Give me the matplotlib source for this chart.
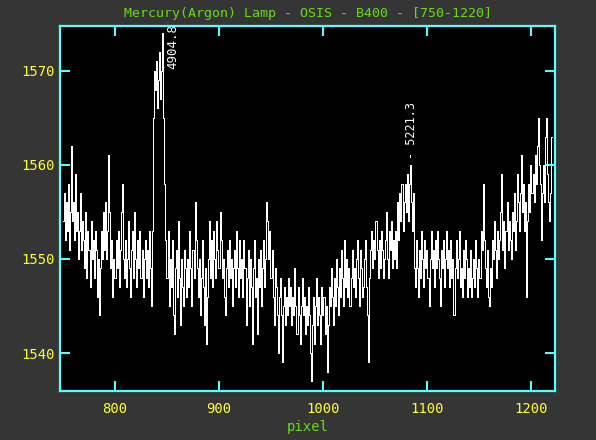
import numpy as np
import matplotlib
matplotlib.use("Agg")
import matplotlib.pyplot as plt

# spectrum of the Mercury(Argon) lamp, one value per pixel 750..1220
pixel_start = 750
pixel_end = 1220
counts = [
    1554, 1557, 1552, 1556, 1553, 1558, 1551, 1555, 1562, 1554,
    1556, 1552, 1559, 1553, 1555, 1550, 1553, 1557, 1551, 1554,
    1552, 1549, 1555, 1548, 1553, 1551, 1547, 1554, 1550, 1552,
    1548, 1553, 1551, 1546, 1550, 1544, 1549, 1553, 1550, 1555,
    1551, 1556, 1550, 1553, 1561, 1555, 1549, 1552, 1546, 1550,
    1548, 1552, 1549, 1553, 1547, 1551, 1555, 1558, 1550, 1548,
    1552, 1547, 1550, 1554, 1549, 1546, 1551, 1553, 1548, 1555,
    1550, 1547, 1552, 1549, 1553, 1548, 1551, 1546, 1550, 1552,
    1548, 1551, 1547, 1553, 1549, 1545, 1553, 1565, 1570, 1568,
    1571, 1566, 1569, 1572, 1567, 1570, 1574, 1565, 1558, 1552,
    1548, 1553, 1545, 1550, 1547, 1552, 1544, 1542, 1549, 1551,
    1546, 1554, 1548, 1543, 1550, 1547, 1545, 1551, 1549, 1546,
    1550, 1547, 1553, 1549, 1545, 1551, 1548, 1556, 1552, 1549,
    1546, 1550, 1544, 1548, 1552, 1547, 1543, 1549, 1541, 1546,
    1550, 1554, 1548, 1552, 1547, 1553, 1550, 1548, 1554, 1551,
    1549, 1555, 1552, 1548, 1550, 1546, 1544, 1549, 1551, 1547,
    1552, 1548, 1550, 1545, 1549, 1551, 1547, 1553, 1549, 1546,
    1552, 1548, 1550, 1546, 1552, 1549, 1543, 1548, 1551, 1545,
    1550, 1547, 1541, 1549, 1552, 1546, 1548, 1542, 1550, 1547,
    1551, 1545, 1549, 1552, 1547, 1550, 1556, 1554, 1550, 1553,
    1548, 1551, 1546, 1543, 1549, 1547, 1544, 1540, 1546, 1548,
    1544, 1539, 1545, 1547, 1543, 1546, 1544, 1548, 1545, 1547,
    1543, 1546, 1544, 1549, 1545, 1542, 1547, 1544, 1541, 1545,
    1548, 1544, 1546, 1542, 1545, 1543, 1547, 1544, 1540, 1537,
    1543, 1546, 1541, 1545, 1548, 1543, 1546, 1544, 1541, 1547,
    1544, 1546, 1542, 1545, 1538, 1543, 1547, 1545, 1549, 1546,
    1543, 1548, 1545, 1550, 1547, 1544, 1549, 1546, 1551, 1548,
    1545, 1552, 1547, 1550, 1546, 1549, 1545, 1548, 1551, 1547,
    1549, 1546, 1550, 1552, 1548, 1545, 1551, 1549, 1546, 1547,
    1550, 1552, 1547, 1544, 1539, 1548, 1551, 1553, 1549, 1552,
    1550, 1554, 1551, 1548, 1552, 1549, 1553, 1551, 1548, 1550,
    1552, 1555, 1550, 1548, 1553, 1551, 1554, 1549, 1552, 1550,
    1553, 1549, 1556, 1552, 1557, 1554, 1558, 1553, 1556, 1558,
    1555, 1559, 1554, 1558, 1560, 1556, 1553, 1557, 1549, 1547,
    1552, 1549, 1546, 1551, 1548, 1553, 1550, 1547, 1552, 1549,
    1551, 1548, 1545, 1550, 1553, 1549, 1551, 1547, 1552, 1549,
    1553, 1550, 1548, 1545, 1551, 1549, 1552, 1547, 1550, 1553,
    1549, 1551, 1547, 1552, 1548, 1550, 1544, 1549, 1552, 1548,
    1550, 1553, 1547, 1549, 1546, 1551, 1548, 1552, 1550, 1546,
    1549, 1547, 1551, 1546, 1548, 1550, 1547, 1552, 1549, 1546,
    1550, 1548, 1553, 1551, 1558, 1552, 1549, 1547, 1551, 1546,
    1545, 1549, 1547, 1552, 1550, 1554, 1551, 1548, 1553, 1550,
    1552, 1555, 1559, 1551, 1554, 1549, 1553, 1556, 1551, 1554,
    1552, 1550, 1555, 1553, 1557, 1551, 1554, 1559, 1556, 1553,
    1557, 1561, 1555, 1558, 1553, 1556, 1546, 1554, 1558, 1555,
    1560, 1557, 1559, 1556, 1561, 1558, 1562, 1565, 1560, 1558,
    1552, 1557, 1560, 1556, 1563, 1565, 1559, 1556, 1554, 1557,
    1563,
]

# identified lines: (pixel, label)
line_pixels = [846, 1084]
line_labels = ["4904.8", "- 5221.3"]

x_ticks = [800, 900, 1000, 1100, 1200]
y_ticks = [1540, 1550, 1560, 1570]

BG = "#353535"
CYAN = "#55ffff"
YELLOW = "#ffff33"
GREEN = "#66dd11"
MONO = "DejaVu Sans Mono"

pixels = np.arange(pixel_start, pixel_end + 1)

fig = plt.figure(figsize=(5.96, 4.40), dpi=100, facecolor=BG)
ax = fig.add_axes([0.101, 0.112, 0.830, 0.830])
ax.set_facecolor("black")

ax.plot(pixels, counts, color="white", lw=0.7, drawstyle="steps-mid",
        antialiased=False)

ax.set_xlim(747.3, 1223.0)
ax.set_ylim(1536.0, 1574.8)
ax.set_xticks(x_ticks)
ax.set_yticks(y_ticks)

for s in ax.spines.values():
    s.set_color(CYAN)
    s.set_linewidth(1.6)
ax.tick_params(which="both", direction="in", color=CYAN, width=1.5, length=7.5,
               top=True, right=True, labelcolor=YELLOW, labelsize=10)
ax.tick_params(axis="y", pad=4)
ax.tick_params(axis="x", pad=8)
for lab in ax.get_xticklabels() + ax.get_yticklabels():
    lab.set_family(MONO)

ax.set_title("Mercury(Argon) Lamp - OSIS - B400 - [750-1220]",
             color=GREEN, family=MONO, fontsize=9.5, pad=6)
ax.set_xlabel("pixel", color=GREEN, family=MONO, fontsize=10, labelpad=3)

# line identifications
ax.annotate(line_labels[0], xy=(line_pixels[0], 1570.1), xytext=(856, 1570.2),
            rotation=90, color="white", family=MONO, fontsize=9,
            ha="center", va="bottom",
            arrowprops=dict(arrowstyle="-", color="white", lw=0.7,
                            shrinkA=0, shrinkB=0))
ax.text(line_pixels[1] + 1, 1560.6, line_labels[1], rotation=90, color="white",
        family=MONO, fontsize=8.5, ha="center", va="bottom")

fig.savefig("out.png", dpi=100, facecolor=BG)
